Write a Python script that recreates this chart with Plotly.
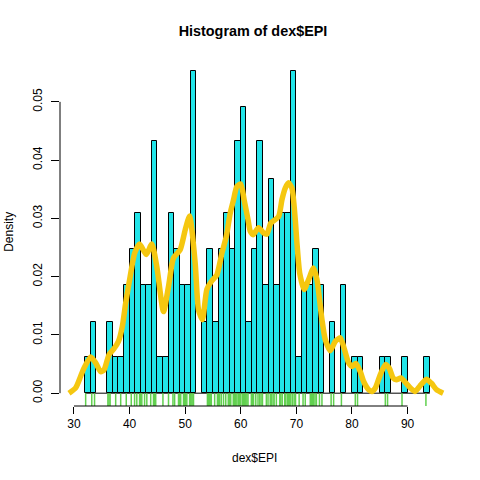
import plotly.graph_objects as go

bin_centers = [32.5, 33.5, 36.5, 37.5, 38.5, 39.5, 40.5, 41.5, 42.5, 43.5, 44.5, 45.5, 46.5, 47.5, 48.5, 49.5,
               50.5, 51.5, 53.5, 54.5, 55.5, 56.5, 57.5, 58.5, 59.5, 60.5, 61.5, 62.5, 63.5, 64.5, 65.5, 66.5,
               67.5, 68.5, 69.5, 70.5, 71.5, 72.5, 73.5, 74.5, 76.5, 78.5, 80.5, 81.5, 85.5, 86.5, 89.5, 93.5]
densities = [0.0062, 0.0123, 0.0123, 0.0062, 0.0062, 0.0185, 0.0247, 0.0309, 0.0185, 0.0185, 0.0432, 0.0062,
             0.0062, 0.0309, 0.0247, 0.0185, 0.0185, 0.0553, 0.0123, 0.0247, 0.0123, 0.0247, 0.0309, 0.0247,
             0.0432, 0.0491, 0.0123, 0.0247, 0.0432, 0.0185, 0.0368, 0.0185, 0.0309, 0.0309, 0.0553, 0.0062,
             0.0185, 0.0185, 0.0247, 0.0185, 0.0123, 0.0185, 0.0062, 0.0062, 0.0062, 0.0062, 0.0062, 0.0062]

curve_x = [29.1, 30.3, 31.2, 31.8, 33.0, 33.9, 34.8, 35.4, 36.3, 37.1, 38.0, 38.7, 39.3, 40.1, 40.9, 41.8, 43.0,
           44.0, 44.9, 46.1, 47.0, 47.9, 49.1, 50.0, 50.8, 51.8, 52.4, 53.1, 53.9, 54.8, 55.7, 56.6, 57.4, 58.1,
           58.7, 59.3, 60.0, 60.6, 61.3, 61.7, 62.2, 63.2, 64.1, 64.7, 65.4, 66.8, 67.4, 68.0, 68.6, 69.2, 69.8,
           70.1, 70.6, 71.4, 72.2, 73.1, 73.7, 74.6, 75.2, 76.1, 77.0, 77.9, 78.5, 79.4, 80.0, 80.7, 81.5, 82.1,
           83.0, 83.6, 84.2, 85.1, 86.0, 86.7, 87.4, 88.0, 88.8, 90.1, 91.3, 92.2, 93.4, 94.3, 95.2, 96.4]
curve_y = [0.0000, 0.0009, 0.0029, 0.0043, 0.0062, 0.0052, 0.0037, 0.0040, 0.0066, 0.0075, 0.0089, 0.0115, 0.0155,
           0.0200, 0.0240, 0.0256, 0.0238, 0.0256, 0.0217, 0.0140, 0.0183, 0.0232, 0.0246, 0.0280, 0.0304, 0.0223,
           0.0143, 0.0126, 0.0178, 0.0193, 0.0203, 0.0240, 0.0269, 0.0309, 0.0332, 0.0355, 0.0359, 0.0332, 0.0298,
           0.0278, 0.0272, 0.0284, 0.0275, 0.0273, 0.0292, 0.0303, 0.0332, 0.0352, 0.0361, 0.0352, 0.0298, 0.0258,
           0.0206, 0.0178, 0.0195, 0.0215, 0.0195, 0.0126, 0.0092, 0.0073, 0.0089, 0.0095, 0.0080, 0.0052, 0.0046,
           0.0051, 0.0037, 0.0020, 0.0006, 0.0003, 0.0009, 0.0032, 0.0049, 0.0043, 0.0026, 0.0023, 0.0026, 0.0013,
           0.0003, 0.0012, 0.0024, 0.0017, 0.0006, 0.0000]

rug_x = [32.1, 33.2, 33.7, 36.1, 36.3, 36.5, 37.5, 38.4, 39.4, 40.3, 40.9, 41.3, 41.8, 42.0, 42.2, 42.7, 43.1, 43.8,
         44.3, 44.5, 44.7, 46.0, 47.0, 47.8, 48.1, 48.8, 49.0, 49.2, 49.7, 49.9, 50.1, 50.3, 50.8, 51.0, 51.2, 51.4,
         51.5, 54.0, 54.2, 54.4, 54.5, 54.7, 55.3, 55.8, 56.0, 56.2, 56.5, 56.9, 57.3, 57.75, 58.0, 58.2, 58.65, 58.9,
         59.1, 59.3, 59.55, 59.8, 60.0, 60.3, 60.5, 60.7, 60.9, 61.1, 61.3, 61.9, 62.1, 62.3, 62.7, 63.1, 63.4, 63.65,
         63.9, 64.6, 64.9, 65.3, 65.5, 65.8, 66.0, 66.4, 67.0, 67.2, 67.45, 67.9, 68.1, 68.4, 68.6, 68.8, 69.0, 69.3,
         69.6, 69.85, 70.5, 71.2, 71.6, 72.5, 72.7, 72.9, 73.1, 73.35, 73.6, 74.15, 74.6, 76.25, 76.7, 78.1, 80.6, 81.0,
         86.0, 86.4, 89.0, 93.3]
rug_level = [-0.00135] * len(rug_x)

x_ticks = [30, 40, 50, 60, 70, 80, 90]
y_ticks = [0.0, 0.01, 0.02, 0.03, 0.04, 0.05]
y_tick_labels = ["0.00", "0.01", "0.02", "0.03", "0.04", "0.05"]

FONT = "Liberation Sans"

fig = go.Figure()
fig.add_bar(x=bin_centers, y=densities, width=1.0,
            marker=dict(color="#22E4E8", line=dict(color="black", width=1)))
fig.add_scatter(x=rug_x, y=rug_level, mode="markers",
                marker=dict(symbol="line-ns", size=11, line=dict(color="#61D04F", width=1.5), color="#61D04F"))
fig.add_scatter(x=curve_x, y=curve_y, mode="lines",
                line=dict(color="#F5C710", width=5.5, shape="spline", smoothing=0.6))

fig.update_layout(
    width=480, height=480, autosize=False, showlegend=False,
    paper_bgcolor="white", plot_bgcolor="white", bargap=0,
    margin=dict(l=59.5, r=20, t=50, b=73.7),
    font=dict(family=FONT, size=12, color="black"),
    title=dict(text="<b>Histogram of dex$EPI</b>", x=253 / 480, y=1 - 31 / 480,
               xanchor="center", yanchor="middle", font=dict(size=14.4, family=FONT, color="black")),
    xaxis=dict(range=[27.485, 99.43], tickmode="array", tickvals=x_ticks, ticks="outside", ticklen=7,
               tickwidth=1, tickcolor="black", showgrid=False, zeroline=False, showline=False, automargin=False),
    yaxis=dict(range=[-0.0022, 0.0589], tickmode="array", tickvals=y_ticks, ticktext=y_tick_labels,
               ticks="outside", ticklen=8, tickwidth=1, tickcolor="black", tickangle=-90, ticklabelstandoff=4,
               showgrid=False, zeroline=False, showline=False, automargin=False),
    annotations=[
        dict(text="dex$EPI", xref="paper", yref="paper", x=0.485, y=0, yshift=-52,
             xanchor="center", yanchor="middle", showarrow=False, font=dict(size=12)),
        dict(text="Density", xref="paper", yref="paper", x=0, y=0.4878, xshift=-50.5, textangle=-90,
             xanchor="center", yanchor="middle", showarrow=False, font=dict(size=12)),
    ],
    shapes=[
        dict(type="line", xref="x", yref="paper", x0=x_ticks[0], x1=x_ticks[-1], y0=0, y1=0,
             line=dict(color="black", width=1)),
        dict(type="line", xref="paper", yref="y", x0=0, x1=0, y0=y_ticks[0], y1=y_ticks[-1],
             line=dict(color="black", width=1)),
        dict(type="line", xref="x", yref="y", x0=32, x1=94, y0=0, y1=0, layer="below",
             line=dict(color="black", width=1)),
    ],
)

fig.write_html("out.html", config={"displayModeBar": False}, post_script="document.body.style.margin='0';")
